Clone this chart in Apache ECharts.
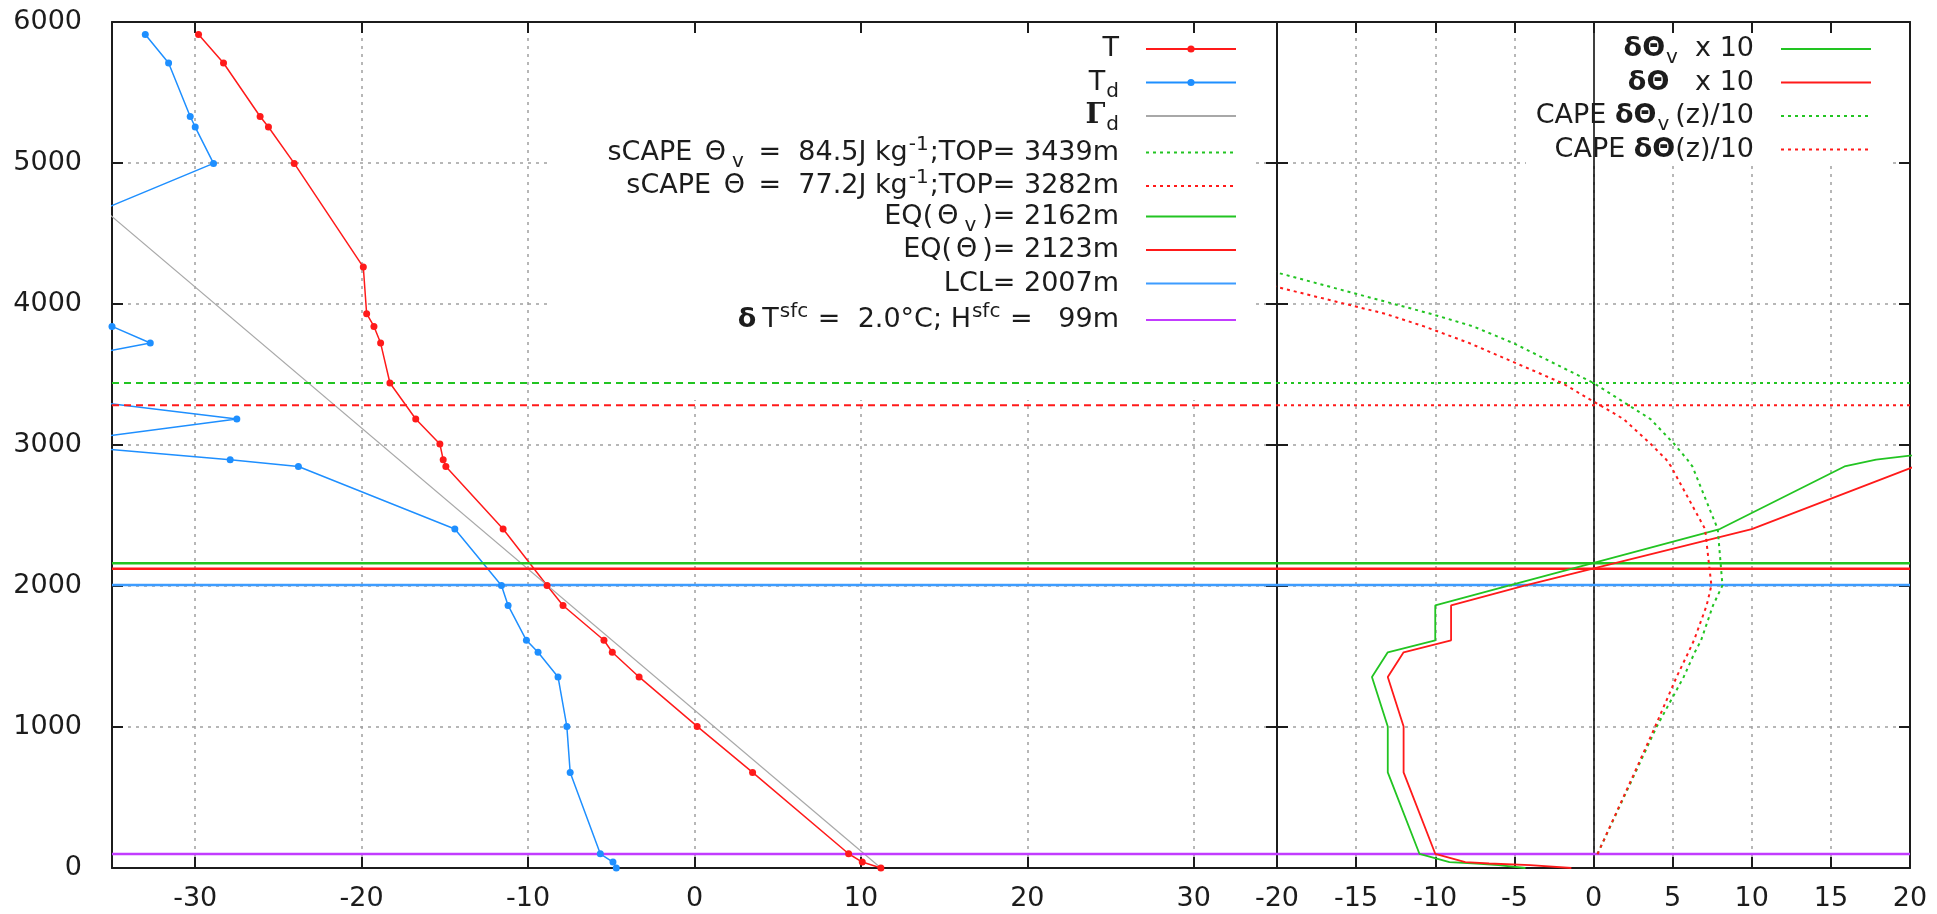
<!DOCTYPE html>
<html>
<head>
<meta charset="utf-8">
<script src="https://cdn.jsdelivr.net/npm/echarts@6/dist/echarts.min.js"></script>
<style>
html, body { margin: 0; padding: 0; background: #fff; }
#chart { width: 1937px; height: 914px; }
</style>
</head>
<body>
<div id="chart"></div>
<script>
// sounding levels (m) shared by T and Td
var heights = [5912, 5709, 5330, 5255, 4997, 4262, 3931, 3841, 3723, 3440, 3184, 3007, 2896, 2848,
  2404, 2004, 1862, 1615, 1530, 1355, 1004, 678, 101, 42, 0];
var tempT = [-29.8, -28.3, -26.1, -25.6, -24.05, -19.9, -19.7, -19.26, -18.86, -18.3, -16.75, -15.3, -15.1, -14.94,
  -11.5, -8.86, -7.9, -5.44, -4.94, -3.33, 0.16, 3.49, 9.26, 10.08, 11.2];
var tempTd = [-33.0, -31.6, -30.3, -30.0, -28.9, -43.9, -40.0, -35.0, -32.7, -45.3, -27.5, -39.0, -27.9, -23.8,
  -14.4, -11.6, -11.2, -10.1, -9.4, -8.2, -7.67, -7.47, -5.66, -4.9, -4.7];

// dry adiabat
var gammaHeights = [0, 6000];
var gammaTemps = [11.2, -48.8];

// right panel: parcel excess x10
var deltaHeights = [0, 20, 32, 42, 101, 678, 1004, 1355, 1530, 1615, 1862, 2004, 2404, 2848, 2896, 3007];
var dThetaV10 = [-4.3, -6.0, -7.4, -9.1, -11.0, -13.0, -13.0, -14.0, -13.0, -10.0, -10.0, -5.3, 7.98, 15.86, 17.86, 26];
var dTheta10 = [-1.4, -4.0, -6.6, -8.1, -10.0, -12.0, -12.0, -13.0, -12.0, -9.0, -9.0, -4.3, 10.0, 20.3, 22, 26];

// right panel: cumulative CAPE /10
var capeHeights = [99, 678, 1004, 1355, 1530, 1615, 1862, 2004, 2404, 2848, 2896, 3007, 3184, 3440, 3723, 3841, 3931, 4262];
var capeV10 = [0.25, 2.65, 4.0, 5.7, 6.4, 6.8, 7.55, 8.15, 7.85, 6.25, 5.93, 5.1, 3.6, 0.0, -5.07, -7.6, -10.3, -21.3];
var capeT10 = [0.25, 2.6, 3.9, 5.25, 6.0, 6.35, 7.15, 7.45, 7.05, 4.9, 4.6, 3.62, 1.9, -2.0, -7.85, -10.7, -13.17, -25.1];

// diagnostic levels (m)
var topThetaV = 3439, topTheta = 3282;
var eqThetaV = 2162, eqTheta = 2123;
var lcl = 2007, hSfc = 99;
var sCapeV = '84.5', sCapeT = '77.2', dTsfc = '2.0';

var xTicksLeft = [-30, -20, -10, 0, 10, 20, 30];

var FONT = 'DejaVu Sans';
var INK = '#1c1c1c';
var RED = '#ff1a1a', BLUE = '#1e8fff', GREEN = '#22c422', LBLUE = '#3d9cff', PURPLE = '#c23cff', GRAY = '#a8a8a8';
var GRIDLINE = { color: '#a0a0a0', width: 1.5, type: [3, 5] };
var DASH = [7, 5], DOT = [3, 4];

function pairs(xs, ys) {
  return xs.map(function (x, i) { return [x, ys[i]]; });
}
function hline(y, x0, x1) { return [[x0, y], [x1, y]]; }

function lineSeries(name, data, color, width, type, panel, withSymbol) {
  return {
    name: name, type: 'line', data: data,
    xAxisIndex: panel ? 3 : 0, yAxisIndex: panel ? 3 : 0,
    symbol: withSymbol ? 'circle' : 'none', symbolSize: 7, showSymbol: !!withSymbol,
    lineStyle: { color: color, width: width, type: type },
    itemStyle: { color: color },
    clip: true, silent: true, animation: false
  };
}

function frameAxis(grid, pos, range, opts) {
  var a = {
    gridIndex: grid, type: 'value', position: pos, z: 3,
    min: range[0], max: range[1],
    axisLine: { show: true, onZero: false, lineStyle: { color: INK, width: 2 } },
    axisTick: { show: true, inside: true, length: 11, lineStyle: { color: INK, width: 2 } },
    axisLabel: { show: false },
    splitLine: { show: false }
  };
  if (range[2]) a.interval = range[2];
  return Object.assign(a, opts || {});
}
function gridAxis(grid, pos, range, opts) {
  var a = {
    gridIndex: grid, type: 'value', position: pos, z: 0,
    min: range[0], max: range[1],
    axisLine: { show: false, onZero: false },
    axisTick: { show: false },
    axisLabel: { show: false },
    splitLine: { show: true, lineStyle: GRIDLINE }
  };
  if (range[2]) a.interval = range[2];
  return Object.assign(a, opts || {});
}

var labelStyle = { fontSize: 27, fontFamily: FONT, color: INK };
var leftRange = [-35, 35], rightRange = [-20, 20, 5], yRange = [0, 6000, 1000];

var xAxis = [
  frameAxis(0, 'bottom', leftRange, {
    axisTick: { show: true, inside: true, length: 11, customValues: xTicksLeft, lineStyle: { color: INK, width: 2 } },
    axisLabel: Object.assign({ show: true, margin: 17, customValues: xTicksLeft }, labelStyle)
  }),
  frameAxis(0, 'top', leftRange, {
    axisTick: { show: true, inside: true, length: 11, customValues: xTicksLeft, lineStyle: { color: INK, width: 2 } }
  }),
  gridAxis(0, 'bottom', leftRange, { axisTick: { show: false, customValues: xTicksLeft } }),
  frameAxis(1, 'bottom', rightRange, {
    axisLabel: Object.assign({ show: true, margin: 17 }, labelStyle)
  }),
  frameAxis(1, 'top', rightRange),
  gridAxis(1, 'bottom', rightRange)
];

var yAxis = [
  frameAxis(0, 'left', yRange, {
    axisLabel: Object.assign({ show: true, margin: 30, formatter: function (v) { return String(v); } }, labelStyle)
  }),
  frameAxis(0, 'right', yRange),
  gridAxis(0, 'left', yRange),
  frameAxis(1, 'left', yRange),
  frameAxis(1, 'right', yRange),
  gridAxis(1, 'left', yRange),
  {
    gridIndex: 1, type: 'value', min: 0, max: 6000, z: 3,
    axisLine: { show: true, onZero: true, lineStyle: { color: '#000', width: 1.5 } },
    axisTick: { show: false }, axisLabel: { show: false }, splitLine: { show: false }
  }
];

var series = [
  lineSeries('T', pairs(tempT, heights), RED, 1.5, 'solid', 0, true),
  lineSeries('Td', pairs(tempTd, heights), BLUE, 1.5, 'solid', 0, true),
  lineSeries('Gd', pairs(gammaTemps, gammaHeights), GRAY, 1.2, 'solid', 0),
  lineSeries('sCapeV', hline(topThetaV, -35, 35), GREEN, 2, DASH, 0),
  lineSeries('sCapeT', hline(topTheta, -35, 35), RED, 2, DASH, 0),
  lineSeries('eqV', hline(eqThetaV, -35, 35), GREEN, 2.5, 'solid', 0),
  lineSeries('eqT', hline(eqTheta, -35, 35), RED, 2.5, 'solid', 0),
  lineSeries('lcl', hline(lcl, -35, 35), LBLUE, 2.5, 'solid', 0),
  lineSeries('sfc', hline(hSfc, -35, 35), PURPLE, 2.5, 'solid', 0),

  lineSeries('rTopV', hline(topThetaV, -20, 20), GREEN, 2, DOT, 1),
  lineSeries('rTopT', hline(topTheta, -20, 20), RED, 2, DOT, 1),
  lineSeries('rEqV', hline(eqThetaV, -20, 20), GREEN, 2.5, 'solid', 1),
  lineSeries('rEqT', hline(eqTheta, -20, 20), RED, 2.5, 'solid', 1),
  lineSeries('rLcl', hline(lcl, -20, 20), LBLUE, 2.5, 'solid', 1),
  lineSeries('rSfc', hline(hSfc, -20, 20), PURPLE, 2.5, 'solid', 1),

  lineSeries('dThV', pairs(dThetaV10, deltaHeights), GREEN, 1.8, 'solid', 1),
  lineSeries('dTh', pairs(dTheta10, deltaHeights), RED, 1.8, 'solid', 1),
  lineSeries('capeV', pairs(capeV10, capeHeights), GREEN, 2, DOT, 1),
  lineSeries('capeT', pairs(capeT10, capeHeights), RED, 2, DOT, 1)
];

var legendText = {
  T: 'T',
  Td: 'T{sub|d}',
  Gd: '{g|Γ}{sub|d}',
  sCapeV: 'sCAPE {th|Θ}{subm|v} =  ' + sCapeV + 'J kg{sup|-1};TOP= ' + topThetaV + 'm',
  sCapeT: 'sCAPE {th|Θ} =  ' + sCapeT + 'J kg{sup|-1};TOP= ' + topTheta + 'm',
  eqV: 'EQ({th|Θ}{subm|v})= ' + eqThetaV + 'm',
  eqT: 'EQ({th|Θ})= ' + eqTheta + 'm',
  lcl: 'LCL= ' + lcl + 'm',
  sfc: '{d|δ}T{sup|sfc} =  ' + dTsfc + '°C; H{sup|sfc} =   ' + hSfc + 'm',
  dThV: '{b|δΘ}{sub|v}  x 10',
  dTh: '{b|δΘ}   x 10',
  capeV: 'CAPE {b|δΘ}{subm|v}(z)/10',
  capeT: 'CAPE {b|δΘ}(z)/10'
};

var legendTextStyle = {
  fontSize: 27, fontFamily: FONT, color: INK, lineHeight: 30, padding: [0, 22, 0, 0],
  rich: {
    sub: { fontSize: 20, fontFamily: FONT, color: INK, lineHeight: 30, height: 12, verticalAlign: 'bottom', padding: [0, 0, 0, 1] },
    subm: { fontSize: 20, fontFamily: FONT, color: INK, lineHeight: 30, height: 12, verticalAlign: 'bottom', padding: [0, 6, 0, 1] },
    sup: { fontSize: 20, fontFamily: FONT, color: INK, lineHeight: 30, height: 14, verticalAlign: 'top', padding: [0, 1, 0, 1] },
    th: { fontSize: 27, fontFamily: FONT, color: INK, lineHeight: 30, padding: [0, 5, 0, 4] },
    d: { fontSize: 27, fontFamily: FONT, fontWeight: 'bold', color: INK, lineHeight: 30, padding: [0, 6, 0, 4] },
    b: { fontSize: 27, fontFamily: FONT, fontWeight: 'bold', color: INK, lineHeight: 30 },
    g: { fontSize: 28, fontFamily: 'DejaVu Serif', fontWeight: 'bold', color: INK, lineHeight: 30 }
  }
};

var noDot = { opacity: 0 };
var leftKey = [
  'T', 'Td',
  { name: 'Gd', itemStyle: noDot },
  { name: 'sCapeV', itemStyle: noDot, lineStyle: { type: DOT } },
  { name: 'sCapeT', itemStyle: noDot, lineStyle: { type: DOT } },
  { name: 'eqV', itemStyle: noDot },
  { name: 'eqT', itemStyle: noDot },
  { name: 'lcl', itemStyle: noDot },
  { name: 'sfc', itemStyle: noDot }
];
var rightKey = [
  { name: 'dThV', itemStyle: noDot },
  { name: 'dTh', itemStyle: noDot },
  { name: 'capeV', itemStyle: noDot },
  { name: 'capeT', itemStyle: noDot }
];

// one legend per key row so the rows keep an even pitch
var ROW0 = 49, ROW_STEP = 33.5;
function rowLegends(items, right) {
  return items.map(function (item, i) {
    return {
      data: [item], orient: 'vertical', align: 'right',
      right: right, top: ROW0 + i * ROW_STEP - 15, padding: 0,
      itemWidth: 90, itemHeight: 9, itemGap: 0,
      z: 4, selectedMode: false,
      textStyle: legendTextStyle,
      formatter: function (name) { return legendText[name]; }
    };
  });
}

var option = {
  animation: false,
  backgroundColor: '#fff',
  grid: [
    { left: 112, top: 22, width: 1165, height: 846 },
    { left: 1277, top: 22, width: 633, height: 846 }
  ],
  // opaque key backgrounds (hide grid lines behind the keys)
  graphic: [
    { type: 'rect', z: 1, silent: true, shape: { x: 547, y: 23, width: 705, height: 377 }, style: { fill: '#fff' } },
    { type: 'rect', z: 1, silent: true, shape: { x: 1526, y: 23, width: 364, height: 143 }, style: { fill: '#fff' } }
  ],
  legend: rowLegends(leftKey, 700).concat(rowLegends(rightKey, 65)),
  xAxis: xAxis,
  yAxis: yAxis,
  series: series
};

var myChart = echarts.init(document.getElementById('chart'), null, { renderer: 'canvas' });
myChart.setOption(option);
</script>
</body>
</html>
